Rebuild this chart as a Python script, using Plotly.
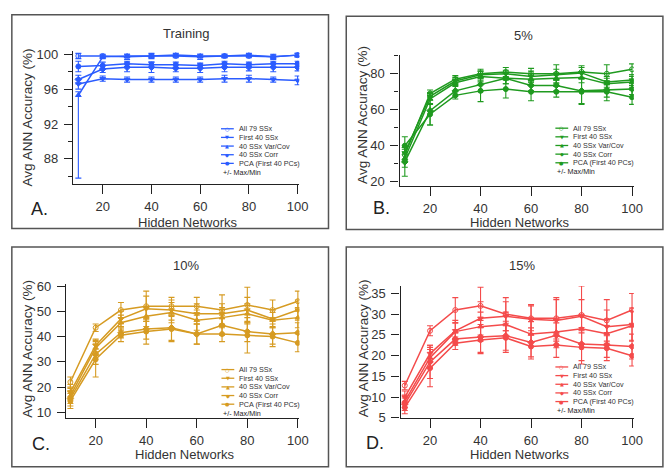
import plotly.graph_objects as go

W, H = 665, 468

hidden = [10, 20, 30, 40, 50, 60, 70, 80, 90, 100]
series_names = ["All 79 SSx", "First 40 SSx", "40 SSx Var/Cov", "40 SSx Corr", "PCA (First 40 PCs)"]
series_symbols = ["circle-open", "triangle-down", "triangle-up", "diamond", "circle"]
legend_glyphs = ["○", "▼", "▲", "◆", "●"]

# ---- Panel A: Training ----
tr_all79 = [99.8, 99.8, 99.7, 99.8, 99.8, 99.7, 99.8, 99.8, 99.7, 99.9]
tr_first40 = [96.6, 97.2, 97.1, 97.1, 97.1, 97.1, 97.2, 97.2, 97.1, 97.0]
tr_varcov = [95.3, 99.7, 99.8, 99.8, 99.9, 99.8, 99.8, 99.9, 99.7, 99.9]
tr_corr = [97.1, 98.3, 98.5, 98.5, 98.4, 98.4, 98.5, 98.5, 98.5, 98.5]
tr_pca = [98.6, 98.7, 98.9, 98.8, 98.8, 98.7, 98.9, 98.8, 98.9, 98.9]
tr_all79_err = [0.3, 0.2, 0.3, 0.3, 0.2, 0.3, 0.2, 0.2, 0.3, 0.2]
tr_first40_err = [0.6, 0.3, 0.3, 0.3, 0.3, 0.3, 0.4, 0.4, 0.3, 0.5]
tr_varcov_err = [0.4, 0.2, 0.2, 0.2, 0.2, 0.2, 0.2, 0.2, 0.2, 0.2]
tr_varcov_errminus = [9.5, 0.2, 0.2, 0.2, 0.2, 0.2, 0.2, 0.2, 0.2, 0.2]
tr_corr_err = [0.5, 0.4, 0.5, 0.6, 0.4, 0.5, 0.5, 0.4, 0.5, 0.4]
tr_pca_err = [0.6, 0.4, 0.3, 0.3, 0.3, 0.3, 0.3, 0.3, 0.3, 0.3]

# ---- Panel B: 5% ----
p5_all79 = [35, 69, 77, 80, 81, 80, 80, 81, 80, 82.5]
p5_first40 = [36, 67.5, 76, 79.5, 80, 78.5, 79.5, 80.5, 75.5, 76.5]
p5_varcov = [33, 66, 75, 78.5, 77.5, 77, 77.5, 78, 74.5, 75.5]
p5_corr = [31, 59.5, 70.5, 74, 77.5, 73.5, 73.5, 70.5, 71, 71.5]
p5_pca = [40, 57.5, 68, 70.5, 71.5, 70, 70, 70, 70, 67]
p5_all79_err = [4, 2, 2, 2.5, 2.5, 3, 5, 3.5, 5, 3]
p5_first40_err = [4, 2, 2, 2, 2, 3, 3, 3, 3, 3]
p5_varcov_err = [5, 3, 2, 3, 3, 3, 3, 3, 3, 3]
p5_corr_err = [8, 8, 3, 4, 3, 3, 3, 7, 4, 3]
p5_pca_err = [5, 6, 2, 6, 5, 5, 3, 7, 5, 4]

# ---- Panel C: 10% ----
p10_all79 = [22, 43.5, 50.5, 52, 52, 52, 50.5, 52.5, 50.5, 54]
p10_first40 = [18, 36.5, 47, 51, 50.5, 49, 49, 50.5, 47, 50.5]
p10_varcov = [16.5, 35.5, 45.5, 48, 49.5, 46.5, 47.5, 49, 46.5, 47.5]
p10_corr = [15.5, 33, 41.5, 43, 43.5, 41, 44.5, 42, 41, 41.5]
p10_pca = [14.5, 31, 40.5, 42, 43, 41, 41, 40.5, 40, 37.5]
p10_all79_err = [2, 1.5, 3, 6, 3.5, 3.5, 6, 7, 4, 4]
p10_first40_err = [3, 2.5, 3, 5, 4, 4, 4, 5, 3.5, 4]
p10_varcov_err = [3, 3, 3, 4, 4, 4, 4, 4, 3, 4]
p10_corr_err = [3, 4, 2, 4, 5, 4, 4, 4, 4, 4]
p10_pca_err = [3, 7, 2.5, 5, 5, 4, 3, 7, 4, 3.5]

# ---- Panel D: 15% ----
p15_all79 = [12.8, 26, 31, 32, 30, 29, 29, 29.8, 28.5, 31]
p15_first40 = [10, 20.5, 26, 29, 29.5, 28.8, 28.5, 29.5, 27, 27.5]
p15_varcov = [9, 19.5, 25.8, 27, 27.5, 25.2, 25.7, 26.5, 25.3, 27.2]
p15_corr = [8.3, 18.5, 24, 24.5, 24.8, 23.2, 24.9, 22.8, 22.6, 22.2]
p15_pca = [7.5, 17, 23, 23.8, 24.3, 22.2, 22.6, 22, 21.8, 20]
p15_all79_err = [1, 1.2, 3, 4.5, 4, 3, 5, 7, 5, 4]
p15_first40_err = [1.5, 2, 2.5, 4, 3.5, 3.5, 5, 4, 4, 4]
p15_varcov_err = [1.5, 2.5, 2, 3.5, 3, 3, 3, 3.5, 3.5, 3.5]
p15_corr_err = [1.5, 4, 1.5, 4, 3.5, 3.5, 3, 4, 3, 3]
p15_pca_err = [1.5, 4.5, 1.5, 3, 3.5, 3, 3, 4, 3, 2.5]

panel_titles = ["Training", "5%", "10%", "15%"]
panel_letters = ["A.", "B.", "C.", "D."]
x_title = "Hidden Networks"
y_title = "Avg ANN Accuracy (%)"
legend_note = "+/- Max/Min"
colors = ["#2b5cff", "#1f9a1f", "#d69b22", "#f44b4b"]

panels = [
    dict(vals=[tr_all79, tr_first40, tr_varcov, tr_corr, tr_pca],
         errs=[tr_all79_err, tr_first40_err, tr_varcov_err, tr_corr_err, tr_pca_err],
         errm=[tr_all79_err, tr_first40_err, tr_varcov_errminus, tr_corr_err, tr_pca_err]),
    dict(vals=[p5_all79, p5_first40, p5_varcov, p5_corr, p5_pca],
         errs=[p5_all79_err, p5_first40_err, p5_varcov_err, p5_corr_err, p5_pca_err]),
    dict(vals=[p10_all79, p10_first40, p10_varcov, p10_corr, p10_pca],
         errs=[p10_all79_err, p10_first40_err, p10_varcov_err, p10_corr_err, p10_pca_err]),
    dict(vals=[p15_all79, p15_first40, p15_varcov, p15_corr, p15_pca],
         errs=[p15_all79_err, p15_first40_err, p15_varcov_err, p15_corr_err, p15_pca_err]),
]

# layout geometry (pixels)
geom = [
    dict(x0=74, x1=303.3, y0=184.3, y1=47.7, xr=[7.8, 100.65], yr=[85.1, 100.33], dt=4, mdt=2,
         title=(189, 29), letter=(40, 210), xt=(190, 224), yt=(28, 116),
         frame=(12, 10, 333, 230), leg=(224, 127.3)),
    dict(x0=405, x1=642.5, y0=186, y1=51.7, xr=[7.9, 100.7], yr=[17.7, 90.3], dt=20, mdt=10,
         title=(531, 31), letter=(387, 209), xt=(527, 224), yt=(368, 113),
         frame=(351, 11.5, 672, 231), leg=(563, 126.7)),
    dict(x0=67, x1=303.5, y0=424.7, y1=287, xr=[8.3, 100.6], yr=[7.8, 60.8], dt=10, mdt=None,
         title=(189, 268), letter=(42, 452), xt=(187, 462.5), yt=(28, 354),
         frame=(12, 249, 333, 475), leg=(224.5, 375)),
    dict(x0=406, x1=642.5, y0=424.7, y1=289, xr=[8.3, 100.7], yr=[5.0, 36.8], dt=5, mdt=None,
         title=(529, 268), letter=(380, 451), xt=(527, 462.5), yt=(368, 353),
         frame=(351, 249, 672, 475), leg=(563, 372.3)),
]

FONT = "Arial, Liberation Sans, sans-serif"
def px(x):
    return x / W
def py(y):
    return 1 - y / H

def note(x, y, text, size, color="#333", xanchor="center", angle=0, family=FONT):
    return dict(x=px(x), y=py(y), xref="paper", yref="paper", text=text, showarrow=False,
                xanchor=xanchor, yanchor="middle", textangle=angle,
                font=dict(family=family, size=size, color=color))

fig = go.Figure()
annotations = []
shapes = []
layout = {}

for i, (pan, g) in enumerate(zip(panels, geom)):
    n = "" if i == 0 else str(i + 1)
    xa, ya = "x" + n, "y" + n
    col = colors[i]
    errm = pan.get("errm", pan["errs"])
    for k in range(5):
        fig.add_trace(go.Scatter(
            x=hidden, y=pan["vals"][k], xaxis=xa, yaxis=ya,
            mode="lines+markers", name=series_names[k], showlegend=False,
            line=dict(color=col, width=1.5),
            marker=dict(symbol=series_symbols[k], size=5, color=col,
                        line=dict(color=col, width=1)),
            error_y=dict(type="data", array=pan["errs"][k], arrayminus=errm[k],
                         symmetric=False, color=col, thickness=1.1, width=3),
        ))
    axstyle = dict(showline=True, linecolor="#222", linewidth=1.3, ticks="outside",
                   tickcolor="#222", tickwidth=1.3, showgrid=False, zeroline=False,
                   tickfont=dict(family=FONT, size=13, color="#333"))
    layout["xaxis" + n] = dict(axstyle, domain=[px(g["x0"]), px(g["x1"])], range=g["xr"],
                               anchor=ya, tick0=0, dtick=20, ticklen=9,
                               ticklabelstandoff=1)
    ydict = dict(axstyle, domain=[py(g["y0"]), py(g["y1"])], range=g["yr"], anchor=xa,
                 tick0=0, dtick=g["dt"], ticklen=8, ticklabelstandoff=3)
    if g["mdt"]:
        ydict["minor"] = dict(tick0=0, dtick=g["mdt"], ticks="outside", ticklen=4,
                              tickcolor="#222", tickwidth=1.2, showgrid=False)
    layout["yaxis" + n] = ydict

    fx0, fy0, fx1, fy1 = g["frame"]
    shapes.append(dict(type="rect", xref="paper", yref="paper", x0=px(fx0), x1=px(fx1),
                       y0=py(fy1), y1=py(fy0), line=dict(color="#555", width=1.5)))
    annotations.append(note(*g["title"], panel_titles[i], 13))
    annotations.append(note(*g["letter"], panel_letters[i], 18, color="#222"))
    annotations.append(note(*g["xt"], x_title, 13))
    annotations.append(note(*g["yt"], y_title, 13.5, angle=-90))
    # compact legend
    lx, ly = g["leg"]
    step = 8.9
    for k in range(5):
        yy = ly + k * step
        shapes.append(dict(type="line", xref="paper", yref="paper", x0=px(lx), x1=px(lx + 13),
                           y0=py(yy), y1=py(yy), line=dict(color=col, width=1.3)))
        annotations.append(note(lx + 6.5, yy, legend_glyphs[k], 5, color=col, family="DejaVu Sans"))
        annotations.append(note(lx + 16, yy, series_names[k], 7.2, xanchor="left"))
    annotations.append(note(lx, ly + 5 * step + 0.5, legend_note, 7.2, color="#222", xanchor="left"))

fig.update_layout(
    width=W, height=H, margin=dict(l=0, r=0, t=0, b=0),
    paper_bgcolor="white", plot_bgcolor="rgba(0,0,0,0)",
    annotations=annotations, shapes=shapes, showlegend=False,
    **layout,
)

fig.write_html("out.html", config={"displayModeBar": False},
               post_script="document.body.style.margin='0px';document.body.style.overflow='hidden';")
